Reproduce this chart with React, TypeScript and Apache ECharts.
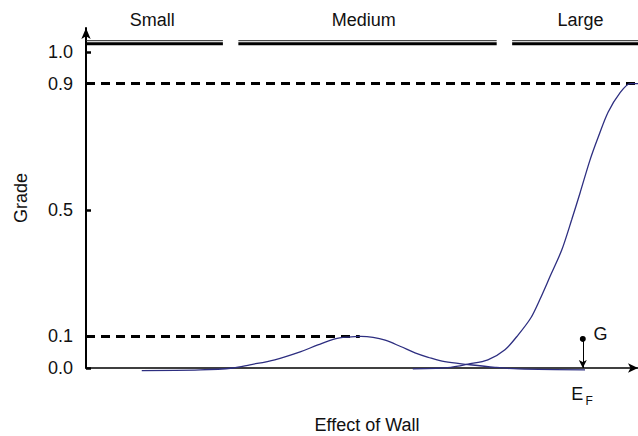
import React, { useEffect, useRef } from 'react';
import * as echarts from 'echarts';

// Axis extents (x in arbitrary "effect" units, y in grade)
const xMin = 0;
const xMax = 100;
const yMin = 0;
const yMax = 1.076;
const gradeTicks = [0, 0.1, 0.5, 0.9, 1.0];

// Fuzzy set bands drawn above the plot
const categoryNames = ['Small', 'Medium', 'Large'];
const categoryRanges = [
  [0, 24.8],
  [27.6, 74.4],
  [77.2, 100],
];
const categoryLabelX = [12.0, 50.3, 89.6];
const bandThinY = 1.0358;
const bandThickY = 1.0263;
const bandLabelY = 1.1;

// Membership curves
const mediumX = [10.1, 20.7, 26.6, 29.7, 34.2, 38.8, 42.0, 45.1, 47.5, 49.8, 52.0, 54.2, 57.0, 59.6, 62.0, 65.0, 69.2, 74.1, 78.3, 90.4];
const mediumY = [-0.008, -0.006, 0.0, 0.01, 0.026, 0.051, 0.073, 0.092, 0.098, 0.1, 0.097, 0.088, 0.068, 0.048, 0.034, 0.02, 0.011, 0.002, -0.003, -0.006];
const largeX = [59.2, 66.1, 69.2, 72.8, 75.9, 78.3, 80.6, 82.2, 84.2, 86.2, 88.0, 89.5, 91.3, 92.8, 94.6, 96.7, 98.6, 100];
const largeY = [-0.003, 0.002, 0.012, 0.026, 0.058, 0.105, 0.159, 0.216, 0.295, 0.374, 0.47, 0.554, 0.658, 0.731, 0.81, 0.87, 0.9, 0.9];

// Reference thresholds
const thresholdHigh = 0.9;
const thresholdLow = 0.1;
const thresholdLowEnd = 49.6;

// Observed effect E_F and its grade G
const efX = 90;
const gGrade = 0.092;

const FONT = "'Liberation Sans', Arial, Helvetica, sans-serif";
const CURVE = '#2d2e80';

function zip(xs: number[], ys: number[]) {
  return xs.map((x, i) => [x, ys[i]]);
}

export default function App() {
  const ref = useRef<HTMLDivElement>(null);

  useEffect(() => {
    if (!ref.current) return;
    const chart = echarts.init(ref.current, undefined, { renderer: 'svg' });

    const bandSeries: any[] = [];
    categoryRanges.forEach((r) => {
      bandSeries.push({
        type: 'line',
        data: [[r[0], bandThinY], [r[1], bandThinY]],
        showSymbol: false,
        lineStyle: { color: '#222', width: 1 },
        silent: true,
      });
      bandSeries.push({
        type: 'line',
        data: [[r[0], bandThickY], [r[1], bandThickY]],
        showSymbol: false,
        lineStyle: { color: '#000', width: 3 },
        silent: true,
      });
    });

    chart.setOption({
      animation: false,
      backgroundColor: '#fff',
      textStyle: { fontFamily: FONT },
      grid: { left: 86, right: 0, top: 28, bottom: 68, containLabel: false, outerBoundsMode: 'none' },
      xAxis: {
        type: 'value',
        min: xMin,
        max: xMax,
        name: 'Effect of Wall',
        nameLocation: 'middle',
        nameGap: 48,
        nameTextStyle: { fontSize: 18, color: '#111', fontFamily: FONT, padding: [0, 0, 0, 10] },
        axisLine: {
          show: true,
          symbol: ['none', 'arrow'],
          symbolSize: [7, 10],
          lineStyle: { color: '#000', width: 1.5 },
        },
        axisTick: { show: false },
        axisLabel: { show: false },
        splitLine: { show: false },
      },
      yAxis: {
        type: 'value',
        min: yMin,
        max: yMax,
        name: 'Grade',
        nameLocation: 'middle',
        nameGap: 56,
        nameTextStyle: { fontSize: 18, color: '#111', fontFamily: FONT },
        axisLine: {
          show: true,
          symbol: ['none', 'arrow'],
          symbolSize: [7, 11],
          lineStyle: { color: '#000', width: 2 },
        },
        axisTick: {
          show: true,
          inside: true,
          length: 5,
          customValues: gradeTicks,
          lineStyle: { color: '#000', width: 2.5 },
        },
        axisLabel: {
          customValues: gradeTicks,
          formatter: (v: number) => v.toFixed(1),
          fontSize: 18,
          color: '#111',
          margin: 13,
          fontFamily: FONT,
        },
        splitLine: { show: false },
      },
      series: [
        {
          type: 'line',
          data: [[xMin, thresholdHigh], [xMax, thresholdHigh]],
          showSymbol: false,
          silent: true,
          lineStyle: { color: '#000', width: 3, type: [9, 6] },
        },
        {
          type: 'line',
          data: [[xMin, thresholdLow], [thresholdLowEnd, thresholdLow]],
          showSymbol: false,
          silent: true,
          lineStyle: { color: '#000', width: 3, type: [9, 6] },
        },
        ...bandSeries,
        {
          name: 'Medium',
          type: 'line',
          data: zip(mediumX, mediumY),
          smooth: 0.35,
          showSymbol: false,
          clip: false,
          lineStyle: { color: CURVE, width: 1.3 },
        },
        {
          name: 'Large',
          type: 'line',
          data: zip(largeX, largeY),
          smooth: 0.3,
          showSymbol: false,
          clip: false,
          lineStyle: { color: CURVE, width: 1.3 },
          markLine: {
            silent: true,
            symbol: ['circle', 'arrow'],
            symbolSize: [6, 8],
            label: { show: false },
            lineStyle: { color: '#000', width: 1, type: 'solid' },
            data: [[{ coord: [efX, gGrade] }, { coord: [efX, 0] }]],
          },
        },
      ],
    });

    // Text annotations placed through the axes' own scales
    const px = (x: number, y: number) => chart.convertToPixel({ gridIndex: 0 }, [x, y]) as number[];
    const texts: any[] = categoryNames.map((name, i) => {
      const p = px(categoryLabelX[i], bandLabelY);
      return {
        type: 'text',
        x: p[0],
        y: p[1],
        style: { text: name, fontSize: 18, fontFamily: FONT, fill: '#111', align: 'center', verticalAlign: 'middle' },
      };
    });
    const gp = px(efX + 3.2, gGrade + 0.016);
    texts.push({
      type: 'text',
      x: gp[0],
      y: gp[1],
      style: { text: 'G', fontSize: 18, fontFamily: FONT, fill: '#111', align: 'center', verticalAlign: 'middle' },
    });
    const ep = px(efX - 1.0, -0.082);
    texts.push({
      type: 'text',
      x: ep[0],
      y: ep[1],
      style: { text: 'E', fontSize: 18, fontFamily: FONT, fill: '#111', align: 'center', verticalAlign: 'middle' },
    });
    texts.push({
      type: 'text',
      x: ep[0] + 12,
      y: ep[1] + 7,
      style: { text: 'F', fontSize: 12, fontFamily: FONT, fill: '#111', align: 'center', verticalAlign: 'middle' },
    });
    chart.setOption({ graphic: texts });

    return () => chart.dispose();
  }, []);

  return (
    <div
      ref={ref}
      style={{ position: 'fixed', left: 0, top: 0, width: 638, height: 436, background: '#fff' }}
    />
  );
}
